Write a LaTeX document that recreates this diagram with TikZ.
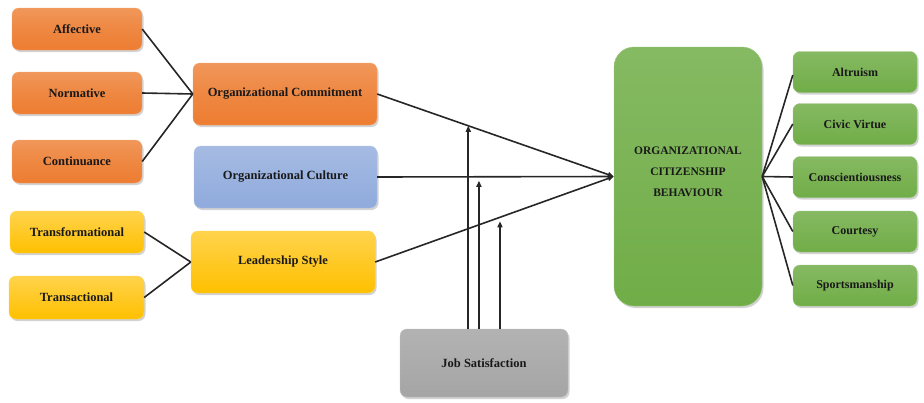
\documentclass[tikz,border=0pt]{standalone}
\usepackage{fontspec}
\setmainfont{Liberation Serif}
\usetikzlibrary{shadows,arrows.meta}
\definecolor{orng}{HTML}{ED7D31}
\definecolor{blu}{HTML}{8FAADC}
\definecolor{yel}{HTML}{FFC000}
\definecolor{grn}{HTML}{70AD47}
\definecolor{gry}{HTML}{A5A5A5}
\tikzset{
  box/.style={rounded corners=7pt, align=center, font=\bfseries\fontsize{12.5}{14}\selectfont, text=black!90,
    drop shadow={shadow xshift=1.5pt, shadow yshift=-2pt, fill=black!35, opacity=0.5}},
  obox/.style={box, draw=orng!70!white, top color=orng!80!white, bottom color=orng, middle color=orng!92!white},
  bbox/.style={box, draw=blu!70!white, top color=blu!80!white, bottom color=blu},
  ybox/.style={box, draw=yel!70!white, top color=yel!70!white, bottom color=yel},
  gbox/.style={box, draw=grn!70!white, top color=grn!85!white, bottom color=grn},
  rbox/.style={gbox, minimum width=124pt, minimum height=41pt, font=\bfseries\fontsize{12}{14}\selectfont},
  grbox/.style={box, draw=gry!70!white, top color=gry!85!white, bottom color=gry},
  ln/.style={line width=1.6pt, draw=black!85},
  arr/.style={ln, -{Triangle[length=6pt,width=5pt]}},
}
\begin{document}
\begin{tikzpicture}[x=1pt,y=-1pt]
\useasboundingbox (0,0) rectangle (924,402);
% left orange
\node[obox, minimum width=130pt, minimum height=42pt] (aff) at (77,29) {Affective};
\node[obox, minimum width=130pt, minimum height=42pt] (nor) at (77,93) {Normative};
\node[obox, minimum width=130pt, minimum height=43pt] (con) at (77,161.5) {Continuance};
\node[obox, minimum width=184pt, minimum height=62pt] (oc) at (285,94) {Organizational Commitment};
\node[bbox, minimum width=183pt, minimum height=62pt] (ocu) at (285.5,177) {Organizational Culture};
\node[ybox, minimum width=134pt, minimum height=42pt] (tf) at (77,232) {Transformational};
\node[ybox, minimum width=135pt, minimum height=43pt] (ta) at (76.5,297.5) {Transactional};
\node[ybox, minimum width=184pt, minimum height=62pt] (ls) at (283,262) {Leadership Style};
\node[grbox, minimum width=168pt, minimum height=68pt] (js) at (484,363) {Job Satisfaction};
\node[gbox, rounded corners=20pt, minimum width=148pt, minimum height=259pt, font=\bfseries\fontsize{11.5}{21}\selectfont] (ocb) at (688,176.5) {ORGANIZATIONAL\\CITIZENSHIP\\BEHAVIOUR\\[-11pt]};
\node[rbox] (alt) at (855,72) {Altruism};
\node[rbox] (civ) at (855,124) {Civic Virtue};
\node[rbox] (cns) at (855,177) {Conscientiousness};
\node[rbox] (cou) at (855,231.5) {Courtesy};
\node[rbox] (spo) at (855,285.5) {Sportsmanship};
% left connectors
\draw[ln] (aff.east) -- (oc.west);
\draw[ln] (nor.east) -- (oc.west);
\draw[ln] (con.east) -- (oc.west);
\draw[ln] (tf.east) -- (ls.west);
\draw[ln] (ta.east) -- (ls.west);
% main arrows
\coordinate (tip) at (ocb.west);
\draw[arr] (oc.east) -- (tip);
\draw[arr] (ocu.east) -- (tip);
\draw[arr] (ls.east) -- (tip);
% moderator points
\path (oc.east) -- (tip) coordinate[pos=0.385] (m1);
\path (ocu.east) -- (tip) coordinate[pos=0.43] (m2);
\path (ls.east) -- (tip) coordinate[pos=0.523] (m3);
\draw[arr] (js.north -| m1) -- (m1);
\draw[arr] (js.north -| m2) -- ([yshift=-4pt]m2);
\draw[arr] (js.north -| m3) -- ([yshift=-4pt]m3);
% right connectors
\draw[ln] (ocb.east) -- ([yshift=-3pt]alt.west);
\draw[ln] (ocb.east) -- (civ.west);
\draw[ln] (ocb.east) -- (cns.west);
\draw[ln] (ocb.east) -- (cou.west);
\draw[ln] (ocb.east) -- (spo.west);
\end{tikzpicture}
\end{document}
